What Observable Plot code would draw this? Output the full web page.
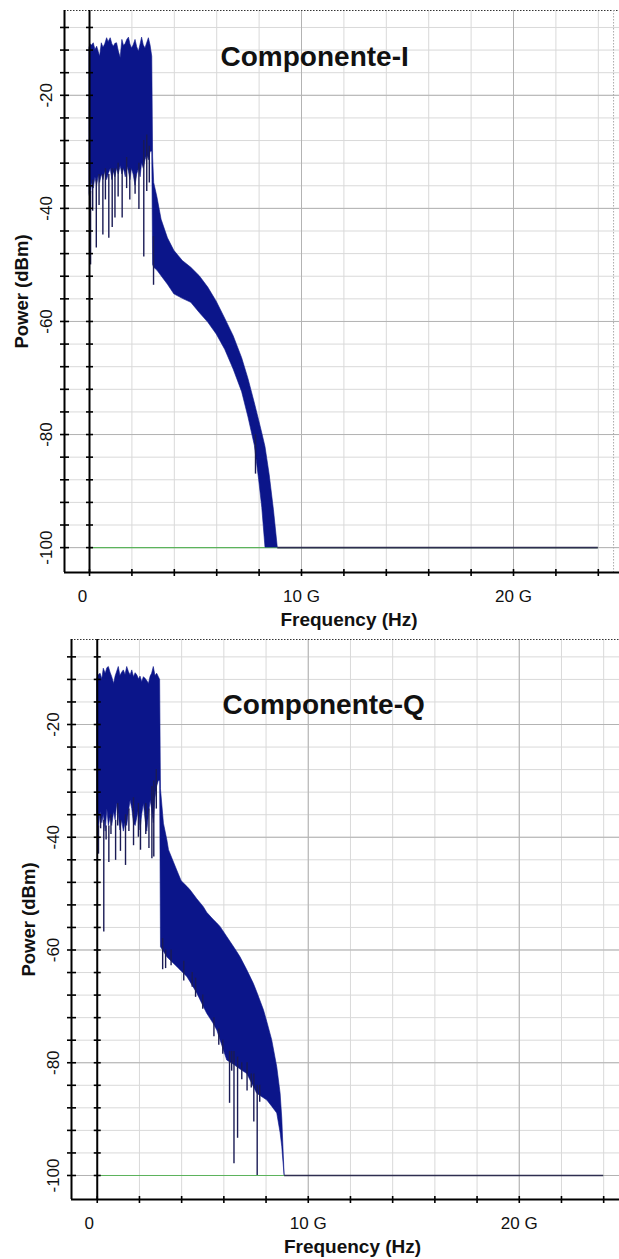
<!DOCTYPE html>
<html><head><meta charset="utf-8">
<script src="https://cdn.jsdelivr.net/npm/d3@7"></script>
<script src="https://cdn.jsdelivr.net/npm/@observablehq/plot@0.6"></script>
<style>
html,body{margin:0;padding:0;background:#fff;}
#chart svg{display:block;}
</style></head><body><div id="chart"></div>
<script>
// ---------- DATA (GHz / dBm) ----------
const titles = ["Componente-I", "Componente-Q"];
const xLabel = "Frequency (Hz)";
const yLabel = "Power (dBm)";
const xTickValues = [0, 10, 20];
const xTickLabels = ["0", "10 G", "20 G"];
const yTickValues = [-20, -40, -60, -80, -100];
const yMinorTicks = [-100,-96,-92,-88,-84,-80,-76,-72,-68,-64,-60,-56,-52,-48,-44,-40,-36,-32,-28,-24,-20,-16,-12,-8];
const xMinorTicks = [0,2,4,6,8,10,12,14,16,18,20,22,24];
const floorLevel = -100;
const floorStart = 0;
const floorEnd = 24;

// Componente-I: envelope of the spectrum
const iFreq = [0,0.05,0.12,0.2,0.28,0.36,0.44,0.5,0.58,0.66,0.74,0.83,0.9,1.0,1.08,1.15,1.22,1.3,1.38,1.47,1.55,1.63,1.71,1.78,1.86,1.93,2.0,2.08,2.17,2.25,2.33,2.41,2.48,2.56,2.64,2.72,2.8,2.88,2.96,
  3.0,3.05,3.2,3.4,3.7,4.0,4.4,4.8,5.2,5.6,6.0,6.4,6.8,7.2,7.5,7.8,8.0,8.15,8.3,8.5,8.7,8.88];
const iTop = [-11.6,-11.0,-11.2,-10.8,-12.0,-11.4,-12.4,-13.2,-10.8,-11.6,-11.0,-9.9,-10.6,-9.9,-11.0,-11.4,-10.9,-10.8,-12.2,-13.4,-10.2,-11.3,-10.9,-10.2,-9.8,-11.0,-11.7,-11.2,-10.2,-11.5,-12.3,-11.0,-9.8,-11.2,-11.7,-10.8,-9.9,-11.2,-13.2,
  -31.0,-35.5,-38.0,-42.0,-45.3,-47.5,-49.3,-50.5,-52.0,-54.0,-56.5,-59.5,-62.6,-66.5,-70.2,-74.5,-77.5,-79.8,-82.2,-87.2,-93.4,-100];
const iBottom = [-37.5,-38.5,-35.5,-36.5,-34.5,-36.0,-34.0,-35.5,-34.0,-35.0,-33.5,-35.0,-34.0,-33.0,-35.0,-33.5,-34.5,-33.0,-34.0,-32.5,-34.0,-33.0,-34.5,-32.5,-33.5,-35.0,-33.0,-34.0,-36.0,-34.0,-33.0,-34.5,-32.0,-33.0,-31.5,-30.5,-31.5,-30.0,-30.0,
  -50.0,-50.5,-51.0,-52.0,-53.5,-55.2,-56.0,-56.7,-58.5,-60.2,-62.3,-65.0,-68.5,-72.5,-77.0,-82.0,-88.0,-93.0,-100,-100,-100,-100];
const iSpikeFreq = [0.05,0.15,0.32,0.45,0.63,0.75,0.91,1.07,1.2,1.35,1.54,1.75,1.9,2.15,2.33,2.56,2.7,2.82,3.02,7.83];
const iSpikeFrom = [-37,-35,-35,-34,-34,-33,-34,-33,-33,-32,-33,-31,-33,-34,-32,-28,-27,-29,-45,-80];
const iSpikeTo   = [-50,-40.5,-47,-39.5,-44.7,-38.5,-45.3,-43.4,-41.7,-38,-41.7,-36.5,-38.5,-37.5,-40.2,-48.6,-37,-35.5,-53.6,-87];

// Componente-Q: envelope of the spectrum
const qFreq = [0,0.08,0.16,0.24,0.31,0.4,0.48,0.55,0.63,0.71,0.8,0.87,0.95,1.02,1.1,1.18,1.26,1.34,1.42,1.5,1.58,1.66,1.74,1.82,1.9,1.98,2.05,2.13,2.21,2.29,2.37,2.45,2.53,2.6,2.68,2.76,2.84,2.92,2.98,
  3.02,3.16,3.32,3.4,3.79,4.0,4.27,4.42,4.74,5.05,5.21,5.5,5.69,5.84,6.16,6.5,6.64,6.79,7.11,7.42,7.58,7.9,8.06,8.29,8.53,8.69,8.77,8.81,8.88];
const qTop = [-11.9,-11.2,-11.0,-12.0,-10.1,-11.0,-10.0,-9.8,-10.8,-11.6,-12.8,-11.5,-10.6,-9.8,-11.4,-10.8,-10.4,-11.2,-9.8,-10.7,-11.3,-10.4,-11.6,-10.9,-11.3,-12.0,-11.5,-12.5,-11.6,-11.9,-12.3,-12.8,-11.5,-11.0,-9.8,-11.4,-11.0,-11.6,-12.1,
  -31.5,-37.6,-40.5,-42.3,-45.9,-47.8,-48.8,-49.4,-51.0,-52.4,-53.4,-54.6,-55.3,-55.9,-57.7,-59.6,-60.4,-61.3,-63.6,-66.0,-67.5,-70.7,-72.8,-76.0,-80.8,-85.5,-90.0,-93.8,-100];
const qBottom = [-36.0,-38.5,-35.5,-37.5,-36.0,-39.0,-35.0,-38.0,-36.5,-38.0,-35.5,-37.0,-34.0,-36.0,-38.8,-37.0,-39.0,-37.5,-38.0,-35.5,-33.5,-35.0,-37.5,-38.0,-36.5,-35.0,-38.8,-36.0,-34.0,-37.0,-39.0,-36.0,-33.5,-35.0,-37.5,-33.0,-31.0,-30.0,-30.0,
  -59.5,-60.3,-61.3,-61.6,-63.0,-63.8,-64.8,-65.7,-67.7,-70.1,-71.3,-73.0,-74.3,-76.0,-79.6,-80.4,-80.8,-81.2,-82.0,-84.3,-85.5,-86.3,-86.7,-87.8,-89.0,-92.5,-95.0,-97.0,-100];
const qSpikeFreq = [0.06,0.16,0.31,0.42,0.55,0.65,0.87,0.97,1.1,1.34,1.5,1.72,1.95,2.05,2.3,2.45,2.59,2.68,2.8,3.1,3.24,3.5,4.1,4.5,4.66,5.0,5.53,5.76,5.95,6.27,6.37,6.48,6.65,6.85,7.1,7.3,7.42,7.58,7.7];
const qSpikeFrom = [-38,-36,-37,-38,-38,-36,-37,-34,-37,-36,-35,-33,-34,-37,-34,-35,-31,-30,-28,-58,-60,-60,-62,-64,-65,-68,-72,-74,-76,-78,-78,-78,-79,-80,-80,-82,-82,-84,-84];
const qSpikeTo   = [-43,-38.5,-56.8,-40.5,-44.5,-39.5,-44.1,-38,-42.5,-45,-39,-41.5,-40,-42.3,-39.5,-42,-43.8,-43.5,-35,-63.5,-63.3,-62.8,-65.5,-66.6,-68.4,-70.5,-75.4,-76.9,-78.5,-87.2,-81.5,-97.9,-93.4,-83,-85,-84.5,-90.5,-100,-87];

// ---------- DRAWING ----------
const FONT = "'Liberation Sans', Arial, sans-serif";
const hLine = {draw(ctx, size) { const r = Math.sqrt(size / Math.PI); ctx.moveTo(-r, 0); ctx.lineTo(r, 0); }};
const vLine = {draw(ctx, size) { const r = Math.sqrt(size / Math.PI); ctx.moveTo(0, -r); ctx.lineTo(0, r); }};

function panel(cfg) {
  const band = cfg.freq.map((f, i) => ({f, top: cfg.top[i], bottom: cfg.bottom[i]}));
  const spikes = cfg.sFreq.map((f, i) => ({f, from: cfg.sFrom[i], to: cfg.sTo[i]}));
  const bandEnd = cfg.freq[cfg.freq.length - 1];
  const [x0] = cfg.xDomain;
  const [y0, y1] = cfg.yDomain;
  const labelOf = d => xTickLabels[xTickValues.indexOf(d)];
  const majorX = xTickValues.filter(d => d !== 0);
  return Plot.plot({
    width: 619, height: cfg.height,
    marginTop: cfg.mTop, marginBottom: cfg.mBottom, marginLeft: cfg.mLeft, marginRight: 0,
    style: {fontFamily: FONT, background: "#fff", overflow: "visible", color: "#111"},
    x: {domain: cfg.xDomain},
    y: {domain: cfg.yDomain},
    marks: [
      Plot.ruleY(yMinorTicks, {stroke: "#d9d9d9", strokeWidth: 1}),
      Plot.ruleX(xMinorTicks, {stroke: "#d9d9d9", strokeWidth: 1}),
      Plot.ruleY(yTickValues, {stroke: "#b3b3b3", strokeWidth: 1}),
      Plot.ruleX(majorX, {stroke: "#b3b3b3", strokeWidth: 1}),
      Plot.ruleY([y1], {stroke: "#333", strokeWidth: 1, strokeDasharray: "1.5,1.5"}),
      cfg.rightDotted != null ? Plot.ruleX([cfg.rightDotted], {stroke: "#aaa", strokeDasharray: "1.5,1.5"}) : null,
      Plot.ruleY([{y: floorLevel, a: floorStart, b: floorEnd}], {y: "y", x1: "a", x2: "b", stroke: "#5cb35c", strokeWidth: 1.2}),
      Plot.areaY(band, {x: "f", y1: "bottom", y2: "top", fill: "#0b158a", stroke: "#0b158a", strokeWidth: 0.6, curve: "linear"}),
      Plot.ruleX(spikes, {x: "f", y1: "from", y2: "to", stroke: "#1a1b55", strokeWidth: 1.4}),
      Plot.ruleY([{y: floorLevel, a: bandEnd, b: floorEnd}], {y: "y", x1: "a", x2: "b", stroke: "#2e2e50", strokeWidth: 1.6}),
      Plot.ruleX([x0], {stroke: "#000", strokeWidth: 2}),
      Plot.ruleX([0], {stroke: "#000", strokeWidth: 2}),
      Plot.ruleY([y0], {stroke: "#000", strokeWidth: 2}),
      Plot.dot(yMinorTicks, {x: () => x0, y: d => d, symbol: hLine, r: 4.5, stroke: "#000", strokeWidth: 1.6, fill: "none"}),
      Plot.dot(yMinorTicks, {x: () => 0, y: d => d, symbol: hLine, r: 3.5, stroke: "#000", strokeWidth: 1.6, fill: "none"}),
      Plot.dot(xMinorTicks, {x: d => d, y: () => y0, symbol: vLine, r: 3.5, stroke: "#000", strokeWidth: 1.6, fill: "none"}),
      Plot.axisY(yTickValues, {tickSize: 0, tickPadding: 13, tickRotate: -90, tickFormat: d => String(d), fontSize: 17, label: null}),
      Plot.axisX(majorX, {tickSize: 0, tickPadding: 17, tickFormat: labelOf, fontSize: 17, label: null}),
      Plot.axisX([0], {tickSize: 0, tickPadding: 17, tickFormat: labelOf, fontSize: 17, label: null, dx: cfg.zeroDx}),
      Plot.text([xLabel], {frameAnchor: "bottom", lineAnchor: "middle", textAnchor: "middle", dy: 47, dx: 7, fontSize: 19, fontWeight: "bold", fill: "#111"}),
      Plot.text([yLabel], {frameAnchor: "left", lineAnchor: "middle", textAnchor: "middle", dx: -42, rotate: -90, fontSize: 18.5, fontWeight: "bold", fill: "#111"}),
      Plot.text([{t: cfg.title, x: cfg.titleX, y: cfg.titleY}], {x: "x", y: "y", text: "t", textAnchor: "start", lineAnchor: "bottom", fontSize: 28, fontWeight: "bold", fill: "#111"})
    ]
  });
}

const chart = document.getElementById("chart");
chart.appendChild(panel({
  freq: iFreq, top: iTop, bottom: iBottom, sFreq: iSpikeFreq, sFrom: iSpikeFrom, sTo: iSpikeTo,
  title: titles[0], titleX: 6.18, titleY: -14.9,
  xDomain: [-1.18, 25.0], yDomain: [-104.4, -5],
  height: 630, mTop: 10, mBottom: 58, mLeft: 64, zeroDx: -7, rightDotted: 24.72
}));
chart.appendChild(panel({
  freq: qFreq, top: qTop, bottom: qBottom, sFreq: qSpikeFreq, sFrom: qSpikeFrom, sTo: qSpikeTo,
  title: titles[1], titleX: 5.94, titleY: -18.05,
  xDomain: [-1.22, 24.75], yDomain: [-104.26, -4.92],
  height: 629, mTop: 9, mBottom: 60, mLeft: 71, zeroDx: -8, rightDotted: null
}));
</script></body></html>
